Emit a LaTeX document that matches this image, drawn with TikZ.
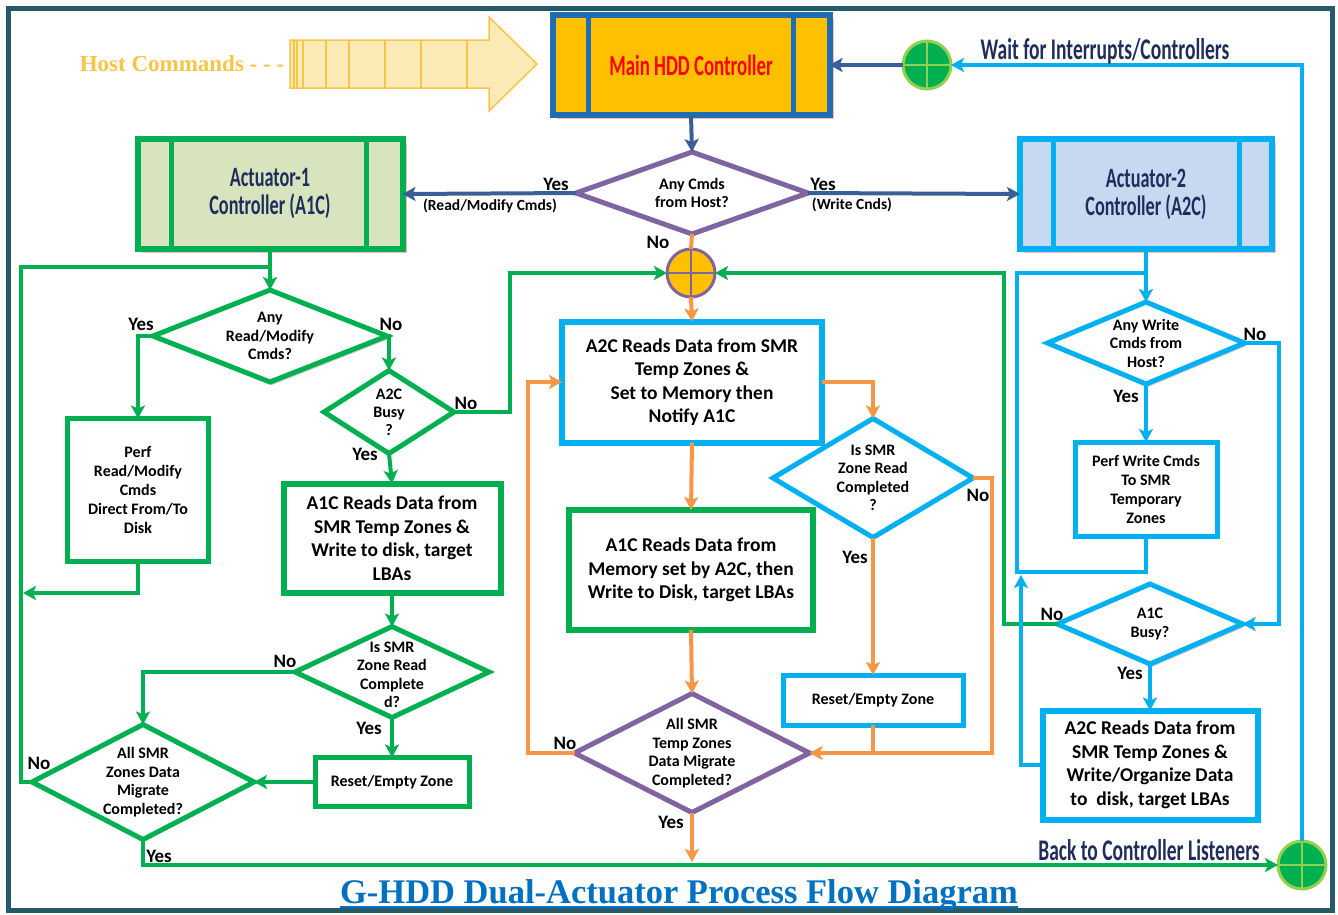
\documentclass[tikz,border=0pt]{standalone}
\usepackage{fontspec}
\setmainfont{Carlito}
\newfontfamily\condfont{Carlito}[FakeStretch=0.65]
\newfontfamily\serfont{Liberation Serif}
\usetikzlibrary{arrows.meta,shapes.geometric,shadows}

\definecolor{cgreen}{HTML}{00B050}
\definecolor{cblue}{HTML}{00B0F0}
\definecolor{corange}{HTML}{F79646}
\definecolor{cpurple}{HTML}{8064A2}
\definecolor{cdark}{HTML}{3A5F96}
\definecolor{cframe}{HTML}{245A69}
\definecolor{cnavy}{HTML}{1F2D5C}
\definecolor{cmainb}{HTML}{1F6DB4}
\definecolor{cgold}{HTML}{FFC000}
\definecolor{clgreen}{HTML}{D7E4BD}
\definecolor{clblue}{HTML}{C6D9F1}
\definecolor{chost}{HTML}{F6C545}
\definecolor{carrowf}{HTML}{FDEBB7}
\definecolor{ctitle}{HTML}{0070C0}
\definecolor{clime}{HTML}{92D050}

\tikzset{
  box/.style={draw,fill=white,rectangle,inner sep=0,outer sep=0,line width=6pt,align=center,font=\bfseries\fontsize{19.5}{23.5}\selectfont},
  sbox/.style={box,line width=5pt,font=\bfseries\fontsize{16}{19}\selectfont},
  ctrl/.style={box,font=\condfont\bfseries\fontsize{28}{28}\selectfont,text=cnavy,drop shadow={shadow xshift=4pt,shadow yshift=-4pt,fill=red!60,opacity=.45}},
  dia/.style={diamond,draw,fill=white,inner sep=0,outer sep=0,line width=5pt},
  gshad/.style={drop shadow={shadow xshift=2pt,shadow yshift=-3pt,fill=black!50,opacity=.4}},
  dtxt/.style={align=center,font=\bfseries\fontsize{16}{18.5}\selectfont},
  yn/.style={font=\bfseries\fontsize{19}{19}\selectfont},
  cond/.style={font=\condfont\bfseries\fontsize{30}{30}\selectfont,text=cnavy},
  jct/.style={circle,inner sep=0,outer sep=0,minimum size=48pt,line width=3pt},
  tip/.style={-{Stealth[length=13pt,width=14pt,inset=3pt]}},
  gl/.style={draw=cgreen,line width=4pt},
  bl/.style={draw=cblue,line width=4pt},
  ol/.style={draw=corange,line width=4pt},
  dl/.style={draw=cdark,line width=4pt}
}

\begin{document}
\begin{tikzpicture}[x=1pt,y=-1pt]
\useasboundingbox (0,0) rectangle (1338,914);
\draw[cframe,line width=5pt] (8,8) rectangle (1332,910);

% host commands
\filldraw[fill=carrowf,draw=chost,line width=1.5pt] (290,40) -- (489,40) -- (489,17) -- (537,64) -- (489,111) -- (489,88) -- (290,88) -- cycle;
\foreach \x in {294,297,303,326,349,385,421,467} \draw[chost,line width=1.5pt] (\x,40) -- (\x,88);
\node[font=\serfont\bfseries\fontsize{23}{23}\selectfont,text=chost] (host) at (182,64) {Host Commands - - -};

% controllers
\node[ctrl,fill=cgold,draw=cmainb,text=red,font=\condfont\bfseries\fontsize{29}{29}\selectfont,minimum width=277pt,minimum height=100pt] (main) at (691,65) {Main HDD Controller};
\draw[cmainb,line width=5pt] ([xshift=36pt]main.north west) -- ([xshift=36pt]main.south west) ([xshift=-36pt]main.north east) -- ([xshift=-36pt]main.south east);
\node[ctrl,fill=clgreen,draw=cgreen,minimum width=265pt,minimum height=110pt] (a1c) at (270,194) {Actuator-1\\Controller (A1C)};
\draw[cgreen,line width=5pt] ([xshift=34pt]a1c.north west) -- ([xshift=34pt]a1c.south west) ([xshift=-36pt]a1c.north east) -- ([xshift=-36pt]a1c.south east);
\node[ctrl,fill=clblue,draw=cblue,minimum width=252pt,minimum height=110pt] (a2c) at (1146,194) {Actuator-2\\Controller (A2C)};
\draw[cblue,line width=5pt] ([xshift=33pt]a2c.north west) -- ([xshift=33pt]a2c.south west) ([xshift=-33pt]a2c.north east) -- ([xshift=-33pt]a2c.south east);

\node[dia,draw=cpurple,minimum width=232pt,minimum height=82pt] (q1) at (692,193) {};
\node[dtxt] (q1t) at (q1) {Any Cmds\\from Host?};

\node[jct,fill=cgold,draw=cpurple] (jc) at (691,273) {};
\draw[cpurple,line width=2pt] (jc.north) -- (jc.south) (jc.west) -- (jc.east);
\node[jct,fill=cgreen,draw=clime] (gc1) at (927,65) {};
\draw[clime,line width=2.5pt] (gc1.north) -- (gc1.south) (gc1.west) -- (gc1.east);
\node[jct,fill=cgreen,draw=clime] (gc2) at (1302,865) {};
\draw[clime,line width=2.5pt] (gc2.north) -- (gc2.south) (gc2.west) -- (gc2.east);

\draw[dl,tip] (main.south) -- (q1.north);
\draw[dl,tip] (q1.west) -- (a1c.east);
\draw[dl,tip] (q1.east) -- (a2c.west);
\draw[dl,tip] (gc1.west) -- (main.east);
\draw[ol] (q1.south) -- (jc.north);
\node[yn] (y1) at (556,184) {Yes};
\node[font=\bfseries\fontsize{15.5}{15.5}\selectfont] (rm) at (490,206) {(Read/Modify Cmds)};
\node[yn] (y2) at (823,184) {Yes};
\node[font=\bfseries\fontsize{15.5}{15.5}\selectfont] (wc) at (852,205) {(Write Cnds)};
\node[yn] (n1) at (658,242) {No};

\draw[bl,tip] (gc2.north) -- (1302,65) -- (gc1.east);
\node[cond] (wait) at (1105,51) {Wait for Interrupts/Controllers};

% actuator-1 side
\node[dia,draw=cgreen,gshad,minimum width=234pt,minimum height=92pt] (q2) at (270,336) {};
\node[dtxt] (q2t) at (q2) {Any\\Read/Modify\\Cmds?};
\node[sbox,draw=cgreen,minimum width=141pt,minimum height=143pt] (perf) at (138,490) {Perf\\Read/Modify\\Cmds\\Direct From/To\\Disk};
\node[dia,draw=cgreen,minimum width=130pt,minimum height=83pt] (q3) at (389,412) {};
\node[dtxt,font=\bfseries\fontsize{16}{18}\selectfont] (q3t) at (q3) {A2C\\Busy\\?};
\node[box,draw=cgreen,minimum width=217pt,minimum height=109pt] (rd1) at (392,538) {A1C Reads Data from\\SMR Temp Zones \&\\Write to disk, target\\LBAs};
\node[dia,draw=cgreen,minimum width=194pt,minimum height=91pt] (q4) at (392,672) {};
\node[dtxt] (q4t) at ([yshift=-3pt]q4.center) {Is SMR\\Zone Read\\Complete\\d?};
\node[sbox,draw=cgreen,minimum width=154pt,minimum height=49pt] (rs1) at (392,782) {Reset/Empty Zone};
\node[dia,draw=cgreen,minimum width=222pt,minimum height=115pt] (alls) at (143,782) {};
\node[dtxt] (allst) at (alls) {All SMR\\Zones Data\\Migrate\\Completed?};
\coordinate (lj) at (270,267);

\draw[gl,tip] (a1c.south) -- (q2.north);
\draw[gl] (alls.west) -- (21,782) |- (lj);
\draw[gl,tip] (q2.west) -| (perf.north);
\draw[gl,tip] (perf.south) |- (23,593);
\draw[gl,tip] (q2.east) -| (q3.north);
\draw[gl,tip] (q3.east) -- (510,412) |- (jc.west);
\draw[gl,tip] (q3.south) -- (rd1.north);
\draw[gl,tip] (rd1.south) -- (q4.north);
\draw[gl,tip] (q4.west) -| (alls.north);
\draw[gl,tip] (q4.south) -- (rs1.north);
\draw[gl,tip] (rs1.west) -- (alls.east);
\draw[gl,tip] (alls.south) |- (gc2.west);
\node[yn] (y3) at (141,324) {Yes};
\node[yn] (n2) at (391,324) {No};
\node[yn] (n3) at (466,403) {No};
\node[yn] (y4) at (365,454) {Yes};
\node[yn] (n4) at (285,661) {No};
\node[yn] (y5) at (369,728) {Yes};
\node[yn] (n5) at (39,763) {No};
\node[yn] (y6) at (159,856) {Yes};
\node[cond] (back) at (1149,850) {Back to Controller Listeners};

% middle
\node[box,draw=cblue,minimum width=260pt,minimum height=121pt] (rd2) at (692,382) {A2C Reads Data from SMR\\Temp Zones \&\\Set to Memory then\\Notify A1C};
\node[dia,draw=cblue,minimum width=200pt,minimum height=119pt] (q5) at (873,478) {};
\node[dtxt] (q5t) at (q5) {Is SMR\\Zone Read\\Completed\\?};
\node[sbox,draw=cblue,minimum width=180pt,minimum height=50pt] (rs2) at (873,700) {Reset/Empty Zone};
\node[box,draw=cgreen,minimum width=244pt,minimum height=120pt] (rd3) at (691,570) {A1C Reads Data from\\Memory set by A2C, then\\Write to Disk, target LBAs};
\node[dia,draw=cpurple,minimum width=235pt,minimum height=119pt] (alld) at (692,753) {};
\node[dtxt] (alldt) at (alld) {All SMR\\Temp Zones\\Data Migrate\\Completed?};

\draw[ol,tip] (jc.south) -- (rd2.north);
\draw[ol,tip] (rd2.east) -| (q5.north);
\draw[ol,tip] (q5.south) -- (rs2.north);
\draw[ol,tip] (q5.east) -- (992,478) |- (alld.east);
\draw[ol] (rs2.south) -- (rs2.south|-alld.east);
\draw[ol,tip] (rd2.south) -- (rd3.north);
\draw[ol,tip] (rd3.south) -- (alld.north);
\draw[ol,tip] (alld.west) -- (528,753) |- (rd2.west);
\draw[ol,tip] (alld.south) -- (692,862);
\node[yn] (y7) at (855,557) {Yes};
\node[yn] (n6) at (978,495) {No};
\node[yn] (n7) at (565,743) {No};
\node[yn] (y8) at (671,822) {Yes};

% actuator-2 side
\node[dia,draw=cblue,gshad,minimum width=197pt,minimum height=82pt] (q6) at (1146,343) {};
\node[dtxt] (q6t) at (q6) {Any Write\\Cmds from\\Host?};
\node[sbox,draw=cblue,minimum width=142pt,minimum height=94pt] (pw) at (1146,489) {Perf Write Cmds\\To SMR\\Temporary\\Zones};
\node[dia,draw=cblue,gshad,minimum width=185pt,minimum height=80pt] (q7) at (1150,624) {};
\node[dtxt] (q7t) at (q7) {A1C\\Busy?};
\node[box,draw=cblue,minimum width=215pt,minimum height=109pt] (rd4) at (1150,765) {A2C Reads Data from\\SMR Temp Zones \&\\Write/Organize Data\\to\ \ disk, target LBAs};

\draw[bl,tip] (a2c.south) -- (q6.north);
\draw[bl] (pw.south) -- (1146,572) -- (1017,572) -- (1017,273) -- (1146,273);
\draw[bl,tip] (q6.south) -- (pw.north);
\draw[bl,tip] (q6.east) -- (1279,343) |- (q7.east);
\draw[gl,tip] (q7.west) -- (1004,624) |- (jc.east);
\draw[bl,tip] (q7.south) -- (rd4.north);
\draw[bl,tip] (rd4.west) -| (1021,575);
\node[yn] (y9) at (1126,396) {Yes};
\node[yn] (n8) at (1255,334) {No};
\node[yn] (n9) at (1052,614) {No};
\node[yn] (y10) at (1130,673) {Yes};

\node[anchor=base,inner sep=0,font=\serfont\bfseries\fontsize{34.5}{34.5}\selectfont,text=ctitle] (title) at (679,903) {G-HDD Dual-Actuator Process Flow Diagram};
\draw[ctitle,line width=2.5pt] ([yshift=-4pt]title.base west) -- ([yshift=-4pt]title.base east);
\end{tikzpicture}
\end{document}
